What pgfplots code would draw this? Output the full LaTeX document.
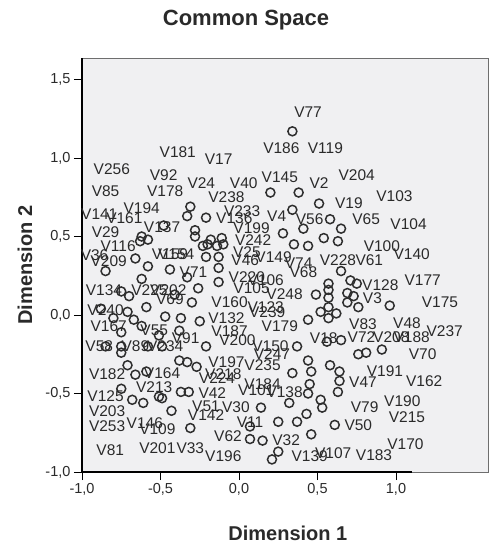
\documentclass[border=0pt]{standalone}
\usepackage{pgfplots}
\pgfplotsset{compat=1.18}
\usepackage{pgfplotstable}
\usepackage{fontspec}
\setmainfont{Liberation Sans}
\definecolor{bgc}{HTML}{F0F0F2}
\definecolor{boxc}{HTML}{6E6E6E}
\definecolor{ptc}{HTML}{2E2E2E}
\definecolor{txc}{HTML}{2A2A2A}

% points of the common space
\pgfplotstableread{
x y
0.34 1.17
0.20 0.78
0.38 0.78
0.51 0.71
0.34 0.67
0.58 0.61
0.65 0.55
0.41 0.55
0.28 0.52
-0.31 0.69
-0.33 0.63
-0.21 0.62
-0.48 0.57
-0.28 0.54
-0.62 0.50
-0.28 0.50
-0.18 0.48
-0.11 0.49
-0.23 0.44
-0.14 0.44
-0.63 0.47
-0.58 0.48
-0.20 0.45
-0.10 0.45
-0.21 0.37
-0.13 0.37
-0.66 0.36
-0.85 0.28
-0.58 0.31
-0.44 0.29
-0.33 0.24
-0.13 0.30
-0.62 0.23
-0.26 0.17
-0.75 0.15
-0.70 0.12
-0.41 0.13
-0.30 0.08
-0.59 0.05
-0.88 0.04
-0.71 0.02
-0.80 -0.02
-0.67 -0.03
-0.47 -0.01
-0.37 -0.02
-0.25 -0.04
-0.62 -0.07
-0.38 -0.10
-0.75 -0.11
-0.21 -0.20
-0.85 -0.20
-0.75 -0.20
-0.58 -0.20
-0.49 -0.20
-0.13 0.21
-0.51 -0.13
0.54 0.49
0.63 0.47
0.35 0.45
0.44 0.44
0.65 0.28
0.71 0.22
0.75 0.20
0.57 0.20
0.57 0.16
0.49 0.13
0.69 0.14
0.73 0.12
0.57 0.11
0.69 0.08
0.76 0.05
0.96 0.06
0.57 0.05
0.52 0.02
0.62 0.01
0.57 -0.02
0.44 -0.03
0.56 -0.17
0.65 -0.16
0.76 -0.25
0.81 -0.24
0.91 -0.22
-0.75 -0.24
-0.38 -0.29
-0.33 -0.30
-0.71 -0.32
-0.27 -0.33
-0.66 -0.38
-0.59 -0.36
-0.75 -0.47
-0.68 -0.54
-0.61 -0.56
-0.51 -0.52
-0.49 -0.53
-0.37 -0.49
-0.32 -0.49
-0.43 -0.61
0.14 -0.59
-0.31 -0.72
0.07 -0.71
0.07 -0.79
0.15 -0.80
0.21 -0.92
0.44 -0.29
0.58 -0.32
0.64 -0.36
0.34 -0.37
0.46 -0.36
0.64 -0.42
0.45 -0.44
0.44 -0.50
0.63 -0.49
0.52 -0.54
0.53 -0.59
0.32 -0.56
0.43 -0.63
0.37 -0.68
0.25 -0.68
0.61 -0.70
0.46 -0.76
0.25 -0.87
0.37 -0.20
}\points

% label positions (centre of each label)
\pgfplotstableread{
x y lab
0.44 1.29 V77
-0.39 1.04 V181
-0.13 0.99 V17
0.27 1.06 V186
0.55 1.06 V119
-0.81 0.93 V256
-0.48 0.89 V92
-0.24 0.84 V24
0.03 0.84 V40
0.26 0.88 V145
0.51 0.84 V2
0.75 0.89 V204
-0.85 0.79 V85
-0.47 0.79 V178
0.99 0.76 V103
-0.08 0.75 V238
0.70 0.71 V19
-0.62 0.68 V194
0.02 0.66 V233
-0.89 0.64 V141
-0.73 0.62 V161
-0.03 0.62 V136
0.24 0.63 V4
0.45 0.61 V56
0.81 0.61 V65
1.08 0.58 V104
-0.49 0.56 V137
0.08 0.55 V199
-0.85 0.53 V29
0.09 0.48 V242
-0.77 0.44 V116
0.91 0.44 V100
0.05 0.40 V25
1.10 0.39 V140
0.22 0.37 V149
-0.92 0.38 V36
-0.44 0.39 V159
-0.40 0.39 V154
0.63 0.35 V228
0.83 0.35 V61
0.04 0.35 V46
-0.83 0.34 V209
0.38 0.33 V74
-0.29 0.27 V71
0.41 0.27 V68
0.05 0.24 V220
0.17 0.22 V106
1.17 0.22 V177
0.90 0.19 V128
0.08 0.17 V105
-0.86 0.16 V134
-0.57 0.16 V225
-0.45 0.16 V202
0.29 0.13 V248
0.85 0.11 V3
1.28 0.08 V175
-0.44 0.10 V69
-0.06 0.08 V160
0.17 0.05 V123
-0.85 0.03 V240
0.18 0.02 V239
-0.08 -0.02 V132
0.26 -0.07 V179
0.79 -0.06 V83
1.07 -0.05 V48
-0.83 -0.07 V167
-0.54 -0.10 V55
-0.06 -0.10 V187
1.31 -0.10 V237
0.78 -0.14 V72
0.97 -0.14 V208
1.10 -0.14 V188
0.54 -0.15 V18
-0.34 -0.15 V91
-0.01 -0.16 V200
0.20 -0.20 V150
-0.89 -0.20 V58
-0.66 -0.20 V89
-0.47 -0.20 V234
1.17 -0.25 V70
0.21 -0.25 V247
-0.08 -0.30 V197
0.15 -0.32 V235
0.93 -0.36 V191
-0.84 -0.38 V182
-0.49 -0.37 V164
-0.10 -0.38 V218
-0.14 -0.40 V224
1.18 -0.42 V162
0.79 -0.43 V47
0.15 -0.44 V184
-0.54 -0.46 V213
0.11 -0.48 V101
0.29 -0.49 V138
-0.17 -0.50 V42
-0.85 -0.52 V125
1.04 -0.55 V190
-0.21 -0.58 V51
-0.02 -0.59 V30
0.80 -0.59 V79
-0.84 -0.61 V203
-0.21 -0.64 V142
1.07 -0.65 V215
0.07 -0.68 V11
-0.60 -0.69 V146
0.76 -0.70 V50
-0.84 -0.71 V253
-0.52 -0.73 V109
-0.07 -0.77 V62
0.30 -0.80 V32
1.06 -0.82 V170
-0.52 -0.85 V201
-0.31 -0.85 V33
-0.82 -0.86 V81
0.60 -0.88 V107
0.86 -0.89 V183
0.45 -0.90 V139
-0.10 -0.90 V196
}\labels

\begin{document}
\begin{tikzpicture}
\begin{axis}[
  scale only axis, width=406pt, height=414pt,
  xmin=-1, xmax=1.586, ymin=-1, ymax=1.637,
  clip=false,
  axis background/.style={fill=bgc},
  axis line style={draw=boxc, line width=0.8pt},
  xtick={-1,-0.5,0,0.5,1}, ytick={-1,-0.5,0,0.5,1,1.5},
  tick pos=left, tick align=outside, major tick length=8pt,
  tick style={black, line width=0.9pt},
  /pgf/number format/use comma,
  /pgf/number format/fixed,
  /pgf/number format/fixed zerofill,
  /pgf/number format/precision=1,
  /pgf/number format/assume math mode=true,
  ticklabel style={font=\fontsize{14.5}{16}\selectfont, text=txc},
  title={Common Space},
  title style={font=\bfseries\fontsize{22}{26}\selectfont, text=txc, at={(axis description cs:0.404,1)}, anchor=base, yshift=26pt},
  xlabel={Dimension 1},
  xlabel style={font=\bfseries\fontsize{20}{24}\selectfont, text=txc, at={(axis description cs:0.507,0)}, anchor=base, yshift=-68pt},
  ylabel={Dimension 2},
  ylabel style={font=\bfseries\fontsize{20}{24}\selectfont, text=txc, at={(axis description cs:-0.123,0.5)}, anchor=base},
]
\addplot[only marks, mark=o, mark size=4.5pt, mark options={draw=ptc, line width=1.5pt}] table[x=x, y=y] {\points};
\addplot[only marks, mark=none, nodes near coords, point meta=explicit symbolic,
  every node near coord/.append style={anchor=center, inner sep=0pt, font=\fontsize{15.5}{17}\selectfont, text=txc}]
  table[x=x, y=y, meta=lab] {\labels};
\draw[black, line width=1.3pt] (axis cs:-1,-1) -- (axis cs:1.1,-1);
\draw[black, line width=1.3pt] (axis cs:-1,-1) -- (axis cs:-1,1.637);
\end{axis}
\path ([xshift=-82pt,yshift=-72pt]current axis.south west) rectangle ([yshift=58pt]current axis.north east);
\end{tikzpicture}
\end{document}
